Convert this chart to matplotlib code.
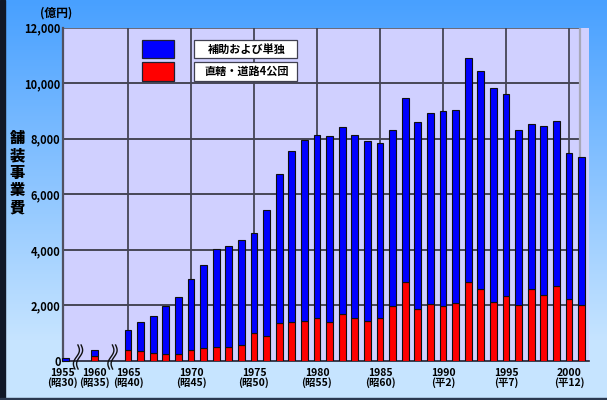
import numpy as np
import matplotlib
matplotlib.use("Agg")
import matplotlib.pyplot as plt
from matplotlib.patches import Rectangle
from matplotlib.lines import Line2D
from matplotlib.transforms import ScaledTranslation

# ---- data (億円) ----
years = [1955, 1960] + list(range(1965, 2002))
subsidy = [120, 215, 745, 1020, 1335, 1705, 2080, 2560, 2990, 3530, 3630, 3760,
           3585, 4545, 5345, 6165, 6485, 6570, 6705, 6730, 6585, 6490, 6295,
           6345, 6625, 6725, 6870, 7030, 6955, 8040, 7845, 7690, 7265, 6285,
           5935, 6090, 5950, 5260, 5340]
direct = [0, 170, 385, 375, 300, 265, 240, 410, 460, 520, 505, 590, 1025, 900,
          1370, 1395, 1455, 1565, 1395, 1705, 1550, 1430, 1550, 1970, 2845,
          1865, 2070, 1980, 2090, 2860, 2585, 2140, 2345, 2030, 2585, 2380,
          2690, 2235, 2000]
series_names = ["補助および単独", "直轄・道路4公団"]
tick_years = [1955, 1960, 1965, 1970, 1975, 1980, 1985, 1990, 1995, 2000]
tick_era = ["(昭30)", "(昭35)", "(昭40)", "(昭45)", "(昭50)", "(昭55)",
            "(昭60)", "(平2)", "(平7)", "(平12)"]
y_ticks = [0, 2000, 4000, 6000, 8000, 10000, 12000]

# broken axis: 1955 and 1960 are squeezed in front of the yearly run
def pos(y):
    return {1955: 1960.02, 1960: 1962.33}.get(y, float(y))

W, H = 607, 400
fx = lambda x: x / W
fy = lambda y: 1 - y / H

plt.rcParams["font.family"] = ["Noto Sans CJK JP", "DejaVu Sans"]
fig = plt.figure(figsize=(W / 100, H / 100), dpi=100)

# gradient background
bg = fig.add_axes([0, 0, 1, 1], zorder=-10)
c_top = np.array(matplotlib.colors.to_rgb("#48a0ff"))
c_bot = np.array(matplotlib.colors.to_rgb("#c6e4ff"))
t = np.clip(np.linspace(0, 1, 200) / 0.85, 0, 1)[:, None]
grad = (c_top * (1 - t) + c_bot * t)[:, None, :]
bg.imshow(grad, aspect="auto", extent=[0, 1, 0, 1])
bg.set_axis_off()
fig.add_artist(Rectangle((0, 0), fx(4.5), 1, transform=fig.transFigure,
                         color="#101828", zorder=-5))
fig.add_artist(Rectangle((0, 0), 1, fy(397.5), transform=fig.transFigure,
                         color="#2a3850", zorder=-5))

left, right, top, bottom = 62.7, 589, 27.7, 361
ax = fig.add_axes([fx(left), fy(bottom), fx(right) - fx(left), fy(top) - fy(bottom)])
ax.set_facecolor("#d0d0ff")
x_lo, x_hi = 1959.82, 2001.59
x_edge = 2000.87
ax.set_xlim(x_lo, x_hi)
ax.set_ylim(0, 12000)

for s in ("top", "right"):
    ax.spines[s].set_visible(False)
ax.spines["left"].set_color("#505060")
ax.spines["left"].set_linewidth(1.6)
ax.spines["bottom"].set_color("#202030")
ax.spines["bottom"].set_linewidth(1.2)

# grid
for v in y_ticks[1:-1]:
    ax.plot([x_lo, x_edge], [v, v], color="#222228", lw=1.1, zorder=1)
ax.plot([x_lo, x_edge], [12000, 12000], color="#6a6a78", lw=1.4, zorder=1)
for yv in tick_years[2:]:
    ax.axvline(yv, color="#454555", lw=1.3, zorder=1)
ax.axvline(x_edge, color="#a8a8b8", lw=1.6, zorder=1)

# stacked bars
xs = [pos(y) for y in years]
ax.bar(xs, direct, width=0.55, color="#ff0000", edgecolor="#101010", lw=0.8, zorder=3)
ax.bar(xs, subsidy, width=0.55, bottom=direct, color="#0000ff",
       edgecolor="#101010", lw=0.8, zorder=3, clip_on=False)

# ticks
ax.set_yticks(y_ticks)
ax.set_yticklabels([f"{v:,}" for v in y_ticks], fontsize=8, fontweight="bold")
ax.set_xticks([pos(y) for y in tick_years])
ax.set_xticklabels([f"{y}\n{e}" for y, e in zip(tick_years, tick_era)],
                   fontsize=7.5, fontweight="bold", linespacing=0.88)
ax.tick_params(axis="y", length=0, pad=1.5)
ax.tick_params(axis="x", length=0, pad=5)
first = ax.get_xticklabels()[0]
first.set_transform(first.get_transform() + ScaledTranslation(-0.025, 0, fig.dpi_scale_trans))

# axis break marks
for xc in (78, 112.5):
    yy = np.linspace(345, 369, 60)
    tt = (yy - 345) / 24
    for off in (-1.6, 1.6):
        xx = xc + off + 2.2 * np.sin(2 * np.pi * tt) - 3 * (tt - 0.5)
        fig.add_artist(Line2D(fx(xx), fy(yy), transform=fig.transFigure,
                              color="#101010", lw=1.0))

# legend
for (y0, y1), col, name in zip([(40, 58.3), (62.3, 80.7)], ["#0000ff", "#ff0000"],
                               series_names):
    fig.add_artist(Rectangle((fx(141.5), fy(y1)), fx(174) - fx(141.5), fy(y0) - fy(y1),
                             transform=fig.transFigure, facecolor=col,
                             edgecolor="#202030", lw=0.9))
    fig.add_artist(Rectangle((fx(194), fy(y1)), fx(296.7) - fx(194), fy(y0) - fy(y1),
                             transform=fig.transFigure, facecolor="white",
                             edgecolor="#404050", lw=0.9))
    fig.text(fx(246.5), fy((y0 + y1) / 2), name, ha="center", va="center",
             fontsize=8, fontweight="bold")

# axis titles
fig.text(fx(56), fy(13), "(億円)", ha="center", va="center", fontsize=8.5,
         fontweight="bold")
for i, ch in enumerate("舗装事業費"):
    fig.text(fx(17.5), fy(138.5 + i * 17.4), ch, ha="center", va="center",
             fontsize=11, fontweight="heavy")

fig.savefig("out.png", dpi=100)
